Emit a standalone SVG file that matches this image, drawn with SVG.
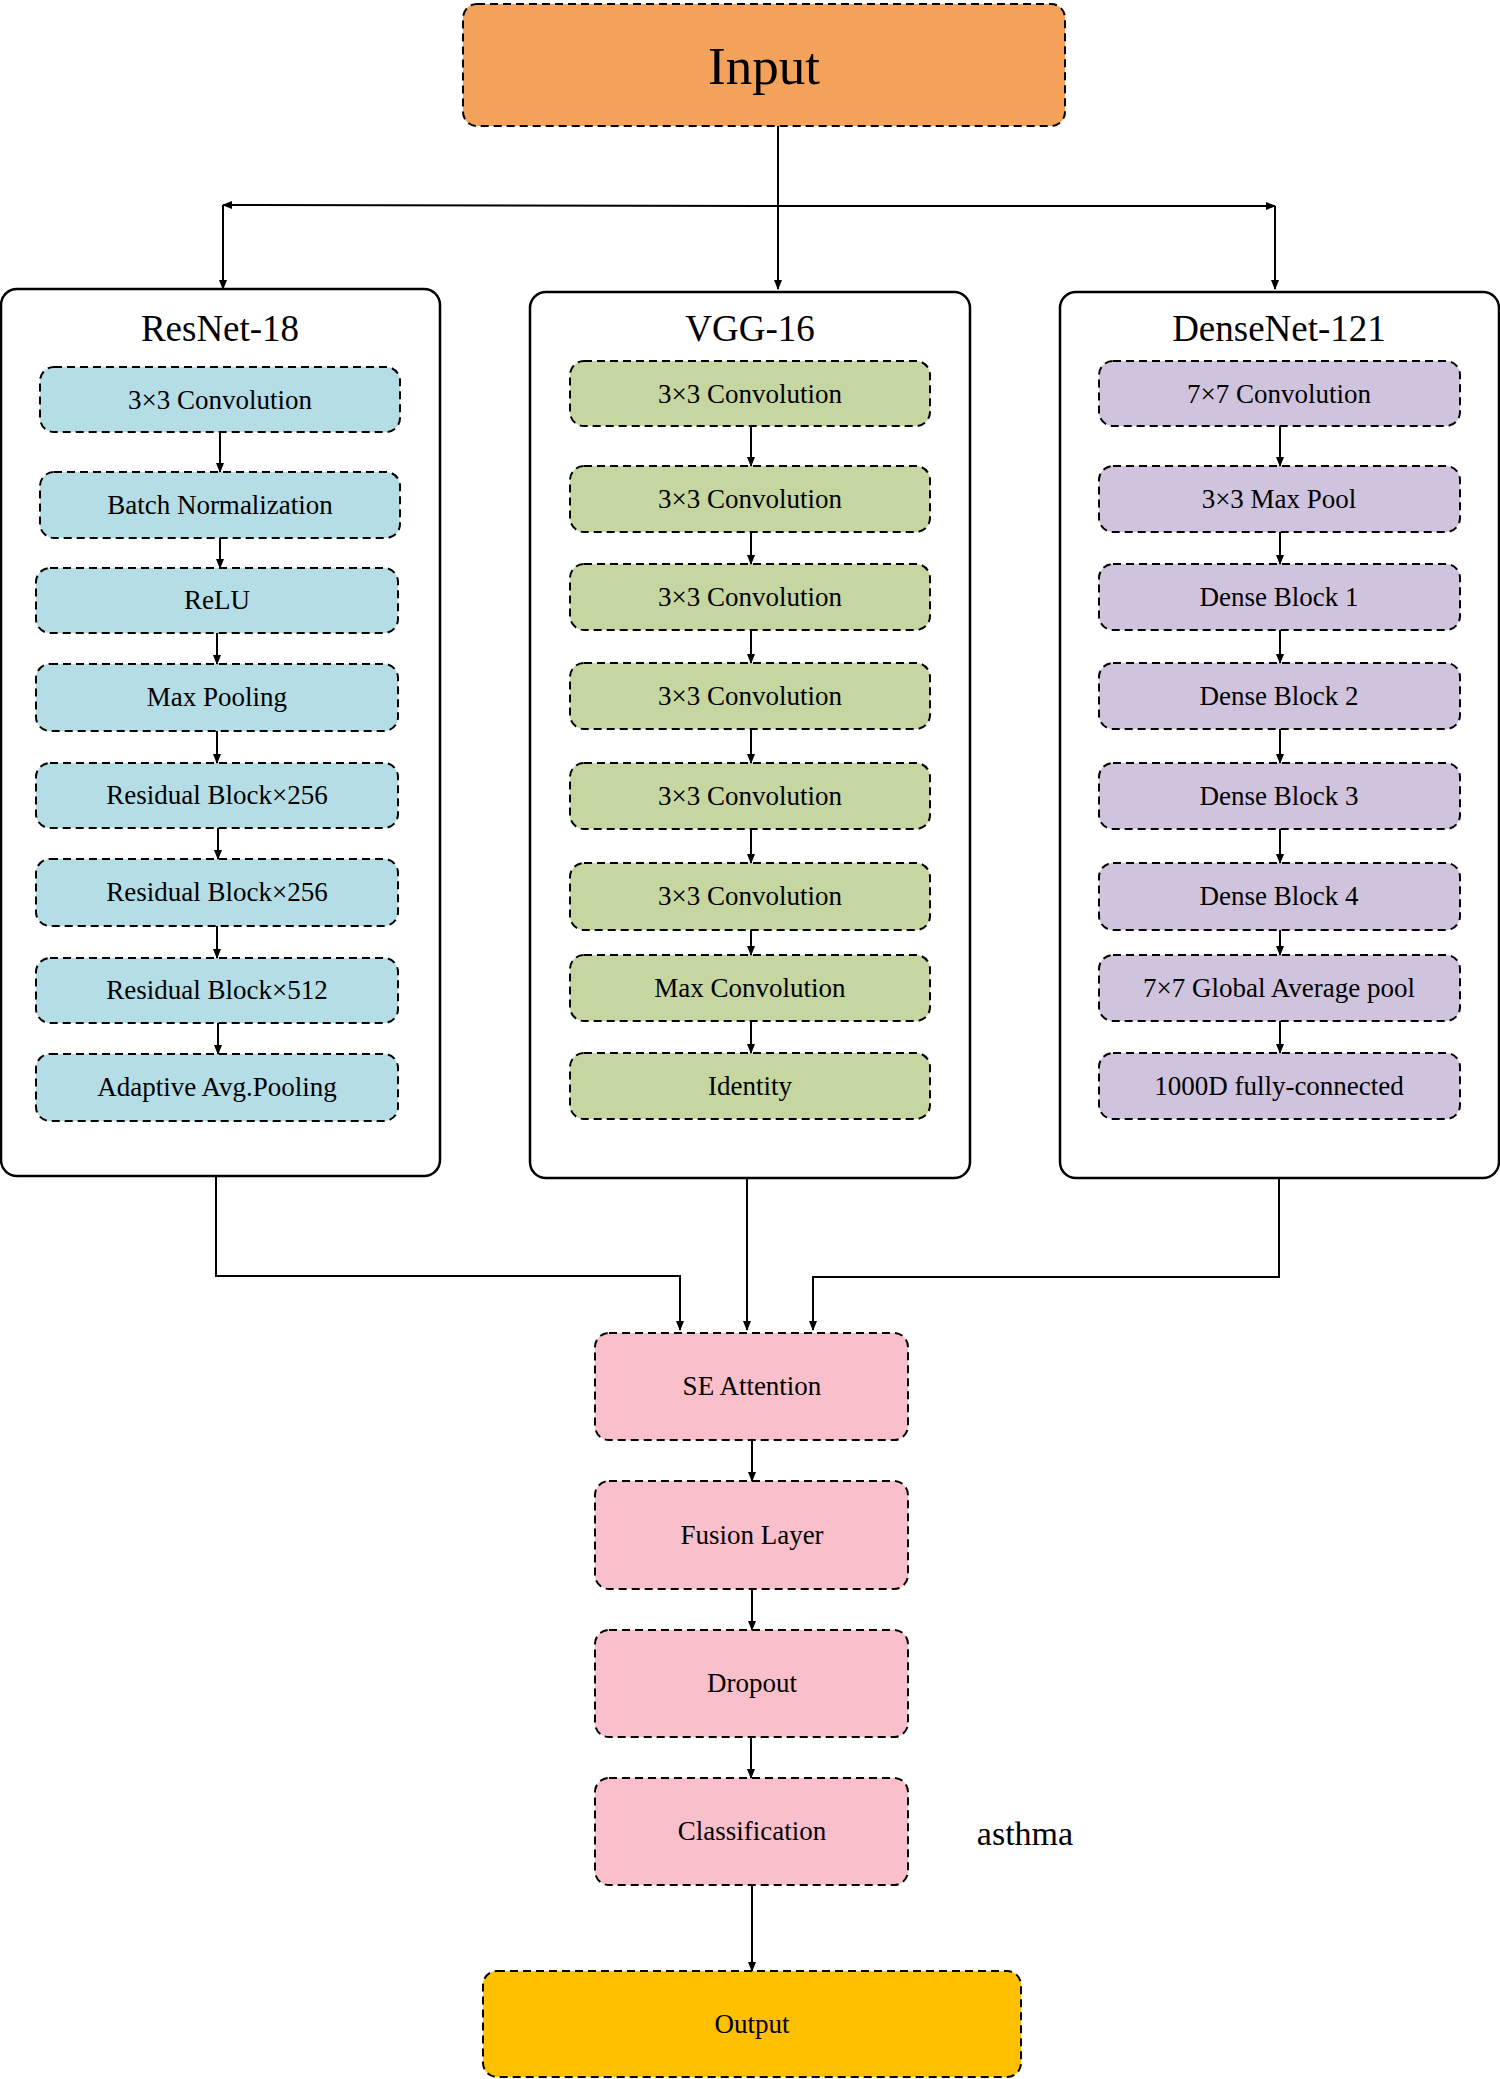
<svg xmlns="http://www.w3.org/2000/svg" width="1500" height="2079" viewBox="0 0 1500 2079">
<defs>
<marker id="ah" markerWidth="10" markerHeight="10" refX="9" refY="5" orient="auto" markerUnits="userSpaceOnUse"><path d="M0,1 L10,5 L0,9 z" fill="#000"/></marker>
<style>
.b{stroke:#000;stroke-width:2;stroke-dasharray:8,5}
.p{fill:#fff;stroke:#000;stroke-width:2.5}
.r{fill:#B4DDE6}.g{fill:#C5D6A0}.v{fill:#CFC3DD}.k{fill:#F9C0CB}
text{font-family:"Liberation Serif",serif;text-anchor:middle;dominant-baseline:central;fill:#000}
.t{font-size:27px}.h{font-size:37px}
.c line,.c path{stroke:#000;stroke-width:2;fill:none}
</style>
</defs>
<rect width="1500" height="2079" fill="#fff"/>
<g id="input"><rect class="b" x="463" y="4" width="602" height="122" rx="14" fill="#F4A15A"/><text x="764" y="66" style="font-size:53px">Input</text></g>
<g id="resnet"><rect class="p" x="1" y="289" width="439" height="887" rx="16"/><text class="h" x="220" y="328">ResNet-18</text>
<rect class="b r" x="40" y="367" width="360" height="65" rx="14"/><text class="t" x="220" y="400">3×3 Convolution</text>
<rect class="b r" x="40" y="472" width="360" height="66" rx="14"/><text class="t" x="220" y="505">Batch Normalization</text>
<rect class="b r" x="36" y="568" width="362" height="65" rx="14"/><text class="t" x="217" y="600">ReLU</text>
<rect class="b r" x="36" y="664" width="362" height="67" rx="14"/><text class="t" x="217" y="697">Max Pooling</text>
<rect class="b r" x="36" y="763" width="362" height="65" rx="14"/><text class="t" x="217" y="795">Residual Block×256</text>
<rect class="b r" x="36" y="859" width="362" height="67" rx="14"/><text class="t" x="217" y="892">Residual Block×256</text>
<rect class="b r" x="36" y="958" width="362" height="65" rx="14"/><text class="t" x="217" y="990">Residual Block×512</text>
<rect class="b r" x="36" y="1054" width="362" height="67" rx="14"/><text class="t" x="217" y="1087">Adaptive Avg.Pooling</text></g>
<g id="vgg"><rect class="p" x="530" y="292" width="440" height="886" rx="16"/><text class="h" x="750" y="328">VGG-16</text>
<rect class="b g" x="570" y="361" width="360" height="65" rx="14"/><text class="t" x="750" y="394">3×3 Convolution</text>
<rect class="b g" x="570" y="466" width="360" height="66" rx="14"/><text class="t" x="750" y="499">3×3 Convolution</text>
<rect class="b g" x="570" y="564" width="360" height="66" rx="14"/><text class="t" x="750" y="597">3×3 Convolution</text>
<rect class="b g" x="570" y="663" width="360" height="66" rx="14"/><text class="t" x="750" y="696">3×3 Convolution</text>
<rect class="b g" x="570" y="763" width="360" height="66" rx="14"/><text class="t" x="750" y="796">3×3 Convolution</text>
<rect class="b g" x="570" y="863" width="360" height="67" rx="14"/><text class="t" x="750" y="896">3×3 Convolution</text>
<rect class="b g" x="570" y="955" width="360" height="66" rx="14"/><text class="t" x="750" y="988">Max Convolution</text>
<rect class="b g" x="570" y="1053" width="360" height="66" rx="14"/><text class="t" x="750" y="1086">Identity</text></g>
<g id="densenet"><rect class="p" x="1060" y="292" width="439" height="886" rx="16"/><text class="h" x="1279" y="328">DenseNet-121</text>
<rect class="b v" x="1099" y="361" width="361" height="65" rx="14"/><text class="t" x="1279" y="394">7×7 Convolution</text>
<rect class="b v" x="1099" y="466" width="361" height="66" rx="14"/><text class="t" x="1279" y="499">3×3 Max Pool</text>
<rect class="b v" x="1099" y="564" width="361" height="66" rx="14"/><text class="t" x="1279" y="597">Dense Block 1</text>
<rect class="b v" x="1099" y="663" width="361" height="66" rx="14"/><text class="t" x="1279" y="696">Dense Block 2</text>
<rect class="b v" x="1099" y="763" width="361" height="66" rx="14"/><text class="t" x="1279" y="796">Dense Block 3</text>
<rect class="b v" x="1099" y="863" width="361" height="67" rx="14"/><text class="t" x="1279" y="896">Dense Block 4</text>
<rect class="b v" x="1099" y="955" width="361" height="66" rx="14"/><text class="t" x="1279" y="988">7×7 Global Average pool</text>
<rect class="b v" x="1099" y="1053" width="361" height="66" rx="14"/><text class="t" x="1279" y="1086">1000D fully-connected</text></g>
<g id="se"><rect class="b k" x="595" y="1333" width="313" height="107" rx="14"/><text class="t" x="752" y="1386">SE Attention</text></g>
<g id="fusion"><rect class="b k" x="595" y="1481" width="313" height="108" rx="14"/><text class="t" x="752" y="1535">Fusion Layer</text></g>
<g id="dropout"><rect class="b k" x="595" y="1630" width="313" height="107" rx="14"/><text class="t" x="752" y="1683">Dropout</text></g>
<g id="class"><rect class="b k" x="595" y="1778" width="313" height="107" rx="14"/><text class="t" x="752" y="1831">Classification</text></g>
<text x="1025" y="1833" style="font-size:34px">asthma</text>
<g id="output"><rect class="b" x="483" y="1971" width="538" height="106" rx="14" fill="#FFC000"/><text class="t" x="752" y="2024">Output</text></g>
<g class="c">
<line x1="778" y1="126" x2="778" y2="289" marker-end="url(#ah)"/>
<line x1="778" y1="206" x2="223" y2="205" marker-end="url(#ah)"/>
<line x1="778" y1="206" x2="1275" y2="206" marker-end="url(#ah)"/>
<line x1="223" y1="205" x2="223" y2="289" marker-end="url(#ah)"/>
<line x1="1275" y1="206" x2="1275" y2="289" marker-end="url(#ah)"/>
<line x1="220" y1="432" x2="220" y2="472" marker-end="url(#ah)"/>
<line x1="220" y1="538" x2="220" y2="568" marker-end="url(#ah)"/>
<line x1="217" y1="633" x2="217" y2="664" marker-end="url(#ah)"/>
<line x1="217" y1="731" x2="217" y2="763" marker-end="url(#ah)"/>
<line x1="218" y1="828" x2="218" y2="859" marker-end="url(#ah)"/>
<line x1="217" y1="926" x2="217" y2="958" marker-end="url(#ah)"/>
<line x1="218" y1="1023" x2="218" y2="1054" marker-end="url(#ah)"/>
<line x1="751" y1="426" x2="751" y2="466" marker-end="url(#ah)"/>
<line x1="751" y1="532" x2="751" y2="564" marker-end="url(#ah)"/>
<line x1="751" y1="630" x2="751" y2="663" marker-end="url(#ah)"/>
<line x1="751" y1="729" x2="751" y2="763" marker-end="url(#ah)"/>
<line x1="751" y1="829" x2="751" y2="863" marker-end="url(#ah)"/>
<line x1="751" y1="930" x2="751" y2="955" marker-end="url(#ah)"/>
<line x1="751" y1="1021" x2="751" y2="1053" marker-end="url(#ah)"/>
<line x1="1280" y1="426" x2="1280" y2="466" marker-end="url(#ah)"/>
<line x1="1280" y1="532" x2="1280" y2="564" marker-end="url(#ah)"/>
<line x1="1280" y1="630" x2="1280" y2="663" marker-end="url(#ah)"/>
<line x1="1280" y1="729" x2="1280" y2="763" marker-end="url(#ah)"/>
<line x1="1280" y1="829" x2="1280" y2="863" marker-end="url(#ah)"/>
<line x1="1280" y1="930" x2="1280" y2="955" marker-end="url(#ah)"/>
<line x1="1280" y1="1021" x2="1280" y2="1053" marker-end="url(#ah)"/>
<path d="M216,1176 V1276 H680 V1330" marker-end="url(#ah)"/>
<line x1="747" y1="1178" x2="747" y2="1330" marker-end="url(#ah)"/>
<path d="M1279,1178 V1277 H813 V1330" marker-end="url(#ah)"/>
<line x1="752" y1="1440" x2="752" y2="1481" marker-end="url(#ah)"/>
<line x1="752" y1="1589" x2="752" y2="1630" marker-end="url(#ah)"/>
<line x1="751" y1="1737" x2="751" y2="1778" marker-end="url(#ah)"/>
<line x1="752" y1="1885" x2="752" y2="1971" marker-end="url(#ah)"/>
</g>
</svg>
